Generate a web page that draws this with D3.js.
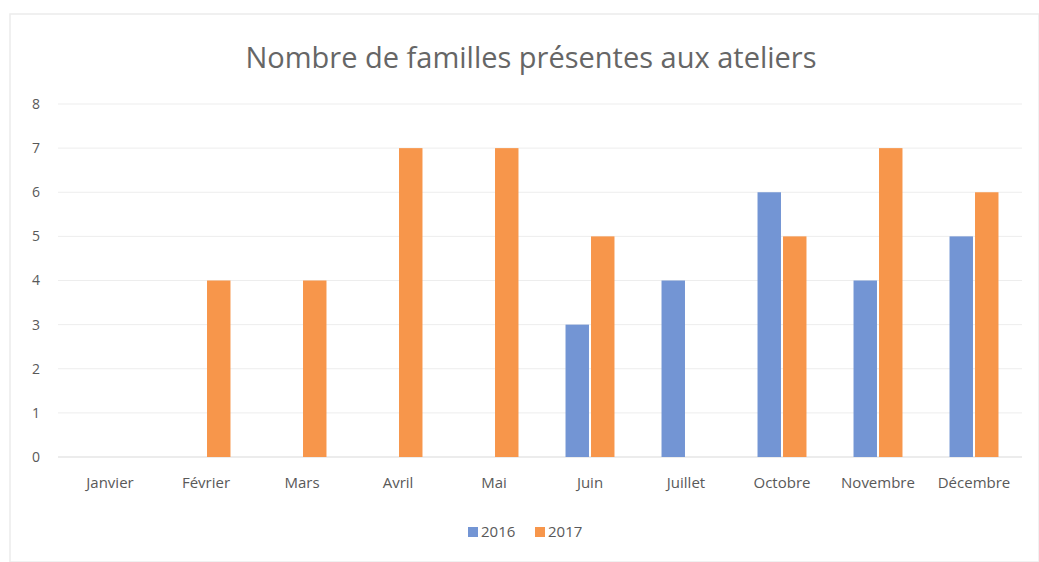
<!DOCTYPE html>
<html>
<head>
<meta charset="utf-8">
<script src="https://cdn.jsdelivr.net/npm/d3@7"></script>
<style>
  html, body { margin: 0; padding: 0; background: #fff; }
  svg { display: block; }
  text { font-family: "Open Sans", sans-serif; fill: #595959; }
</style>
</head>
<body>
<svg id="chart" width="1039" height="562"></svg>
<script>
const months = ["Janvier", "Février", "Mars", "Avril", "Mai", "Juin", "Juillet", "Octobre", "Novembre", "Décembre"];
const series = ["2016", "2017"];
const values2016 = [null, null, null, null, null, 3, 4, 6, 4, 5];
const values2017 = [null, 4, 4, 7, 7, 5, null, 5, 7, 6];
const yTicks = [0, 1, 2, 3, 4, 5, 6, 7, 8];
const colors = ["#7395d4", "#f7964b"];

const svg = d3.select("#chart");
const width = +svg.attr("width");
const height = +svg.attr("height");
const margin = {top: 104, right: 17, bottom: 105, left: 62};

// faint frame of the scanned chart area
svg.append("rect")
    .attr("x", 10).attr("y", 14)
    .attr("width", width - 10).attr("height", height - 14)
    .attr("fill", "none").attr("stroke", "#ececec").attr("stroke-width", 1.5);

const x = d3.scaleBand()
    .domain(months)
    .range([margin.left, width - margin.right])
    .paddingInner(0.49)
    .paddingOuter(0.245);

const xSeries = d3.scaleBand()
    .domain(series)
    .range([0, x.bandwidth()])
    .paddingInner(0.08);

const y = d3.scaleLinear()
    .domain([0, 8])
    .range([height - margin.bottom, margin.top]);

// gridlines
svg.append("g")
    .selectAll("line")
    .data(yTicks)
    .join("line")
    .attr("x1", margin.left - 4)
    .attr("x2", width - margin.right)
    .attr("y1", d => y(d))
    .attr("y2", d => y(d))
    .attr("stroke", d => d === 0 ? "#d9d9d9" : "#ededed")
    .attr("stroke-width", 1);

// y labels
svg.append("g")
    .selectAll("text")
    .data(yTicks)
    .join("text")
    .attr("x", 36)
    .attr("y", d => y(d))
    .attr("dy", "0.35em")
    .attr("text-anchor", "middle")
    .style("font-size", "14px")
    .text(d => d);

// bars
const rows = months.map((m, i) => ({month: m, vals: [values2016[i], values2017[i]]}));
const groups = svg.append("g")
    .selectAll("g")
    .data(rows)
    .join("g")
    .attr("transform", d => `translate(${x(d.month)},0)`);

groups.selectAll("rect")
    .data(d => d.vals.map((v, j) => ({key: series[j], v: v, j: j})).filter(e => e.v !== null))
    .join("rect")
    .attr("x", d => xSeries(d.key))
    .attr("width", xSeries.bandwidth())
    .attr("y", d => y(d.v))
    .attr("height", d => y(0) - y(d.v))
    .attr("fill", d => colors[d.j]);

// x labels
svg.append("g")
    .selectAll("text")
    .data(months)
    .join("text")
    .attr("x", d => x(d) + x.bandwidth() / 2)
    .attr("y", y(0) + 31)
    .attr("text-anchor", "middle")
    .style("font-size", "15px")
    .text(d => d);

// title
svg.append("text")
    .attr("x", 531)
    .attr("y", 68)
    .attr("text-anchor", "middle")
    .style("font-size", "29px")
    .style("fill", "#666")
    .text("Nombre de familles présentes aux ateliers");

// legend
const legend = svg.append("g").attr("transform", "translate(468,532)");
const items = legend.selectAll("g")
    .data(series)
    .join("g")
    .attr("transform", (d, i) => `translate(${i * 67},0)`);
items.append("rect")
    .attr("x", 0).attr("y", -5)
    .attr("width", 10).attr("height", 10)
    .attr("fill", (d, i) => colors[i]);
items.append("text")
    .attr("x", 13).attr("y", 0)
    .attr("dy", "0.35em")
    .style("font-size", "15px")
    .text(d => d);
</script>
</body>
</html>
